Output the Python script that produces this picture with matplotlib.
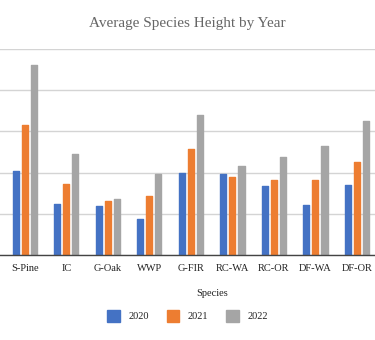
import numpy as np
import matplotlib
matplotlib.use("Agg")
import matplotlib.pyplot as plt

# average height per species, one list per survey year
species = ["S-Pine", "IC", "G-Oak", "WWP", "G-FIR", "RC-WA", "RC-OR", "DF-WA", "DF-OR"]
h2020 = [20.3, 12.3, 11.9, 8.7, 19.9, 19.6, 16.7, 12.1, 16.9]
h2021 = [31.5, 17.2, 13.1, 14.3, 25.7, 18.9, 18.2, 18.2, 22.5]
h2022 = [46.0, 24.5, 13.6, 19.6, 33.9, 21.5, 23.7, 26.4, 32.4]
years = ["2020", "2021", "2022"]
colors = ["#4472C4", "#ED7D31", "#A5A5A5"]

plt.rcParams['font.family'] = ['Liberation Serif', 'DejaVu Serif']

fig = plt.figure(figsize=(3.75, 3.4), dpi=100)
ax = fig.add_axes([0, 0.25, 1, 0.606])

x = np.arange(len(species))
w = 0.145
step = 0.217
bars = []
for k, (vals, c) in enumerate(zip([h2020, h2021, h2022], colors)):
    b = ax.bar(x + (k - 1) * step, vals, width=w, color=c, edgecolor=c,
               linewidth=1.0, joinstyle='round', zorder=3, label=years[k])
    bars.append(b)

ax.set_xlim(-0.602, 8.434)
ax.set_ylim(0, 50)
ax.set_yticks(np.arange(0, 51, 10))
ax.yaxis.grid(True, color="#d4d4d4", linewidth=1.0, zorder=0)
ax.tick_params(axis='y', left=False, labelleft=False)
ax.tick_params(axis='x', bottom=False, pad=3, labelsize=7.5, labelcolor="#222222")
ax.set_xticks(x)
ax.set_xticklabels(species)
for s in ["top", "right", "left"]:
    ax.spines[s].set_visible(False)
ax.spines["bottom"].set_color("#444444")
ax.spines["bottom"].set_linewidth(1.0)
ax.spines["bottom"].set_zorder(4)

fig.text(0.5, 1 - 24 / 340, "Average Species Height by Year", ha="center", va="center",
         fontsize=11, color="#666666")
fig.text(212 / 375, 1 - 293 / 340, "Species", ha="center", va="center",
         fontsize=7.5, color="#222222")

fig.legend(handles=bars, labels=years, loc="center", bbox_to_anchor=(0.5, 1 - 316 / 340),
           ncol=3, frameon=False, fontsize=7.5, handlelength=1.2, handleheight=1.4,
           handletextpad=0.85, columnspacing=1.7, labelcolor="#222222")

fig.savefig("out.png", dpi=100)
